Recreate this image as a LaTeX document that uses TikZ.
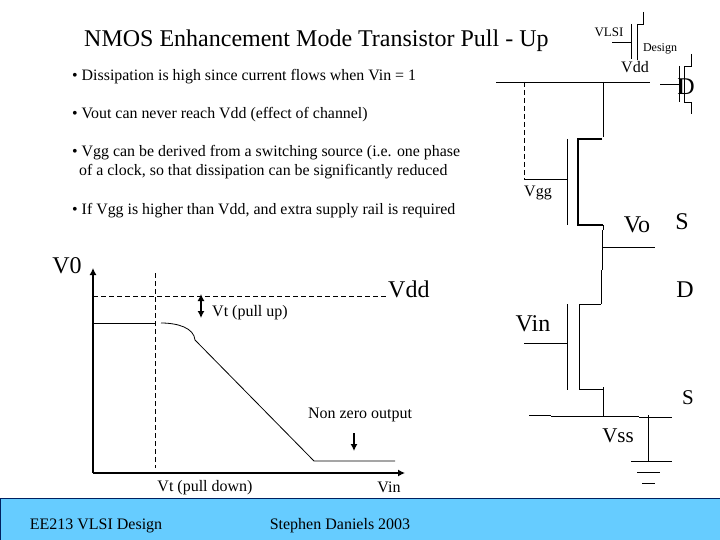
\documentclass[tikz,border=0pt]{standalone}
\usepackage{fontspec}
\usetikzlibrary{arrows.meta}
\setmainfont{Liberation Serif}
\definecolor{footerblue}{HTML}{66CCFF}
\definecolor{footerline}{HTML}{002060}
\tikzset{
  wire/.style={line width=0.8pt},
  dashwire/.style={line width=0.8pt, dash pattern=on 5pt off 3pt},
  titletext/.style={font=\fontsize{24}{28}\selectfont, inner sep=0pt, yshift=-1.5pt},
  bullettext/.style={font=\fontsize{15.9}{19}\selectfont, inner sep=0pt, anchor=west, align=left, yshift=-1.5pt},
  smalltext/.style={font=\fontsize{16}{19}\selectfont, inner sep=0pt, yshift=-1.5pt},
  bigtext/.style={font=\fontsize{24}{28}\selectfont, inner sep=0pt},
}
\begin{document}
\begin{tikzpicture}[x=1pt,y=-1pt,>={Latex[length=7pt,width=7pt]}]
\useasboundingbox (0,0) rectangle (720,540);

% Footer band
  \fill[footerblue] (0,498) rectangle (720,540);
  \draw[footerline, line width=0.9pt] (0,498) -- (720,498);
  \draw[footerline, line width=0.9pt] (0.5,498) -- (0.5,540);
  \node[smalltext] (footerleft) at (96,524) {EE213 VLSI Design};
  \node[smalltext] (footerright) at (340,524) {Stephen Daniels 2003};

% Title and the bullets
  \node[titletext, anchor=west] (title) at (84,39) {NMOS Enhancement Mode Transistor Pull - Up};
  \node[bullettext] (bulletone) at (72,75) {• Dissipation is high since current flows when Vin = 1};
  \node[bullettext] (bullettwo) at (72,113) {• Vout can never reach Vdd (effect of channel)};
  \node[bullettext] (bulletthree) at (72,160.5) {• Vgg can be derived from a switching source (i.e. one phase\\\hspace{7pt}of a clock, so that dissipation can be significantly reduced};
  \node[bullettext] (bulletfour) at (72,209) {• If Vgg is higher than Vdd, and extra supply rail is required};

% Draw the axes of the graph
  \draw[->, line width=1.2pt] (93,473) -- (93,268);
  \draw[->, line width=1.2pt] (93,473) -- (405,473);
  \node[bigtext] (vzero) at (67,266) {V0};
  \node[smalltext] (vinaxis) at (389,486) {Vin};

  % Dashed levels
  \draw[dashwire] (93,296) -- (388,296);
  \draw[dashwire] (155,273) -- (155,468);
  \node[bigtext, anchor=west] (vddlevel) at (388,289) {Vdd};
  \node[smalltext] (vtdown) at (205,486) {Vt (pull down)};

  % The transfer curve
  \draw[wire] (93,323) -- (155,323);
  \draw[wire] (161,323) .. controls (178,323) and (194,328) .. (195,340) -- (314,461) -- (395,461);

  % Small arrows
  \draw[<->, line width=1.2pt] (201,294) -- (201,318);
  \node[smalltext, anchor=west] (vtup) at (212,311) {Vt (pull up)};
  \draw[->, line width=1.2pt] (354,433) -- (354,451);
  \node[smalltext] (nonzero) at (360,413) {Non zero output};

% Small logo transistors
  \draw[wire] (612,42) -- (631,42);
  \draw[wire] (631,24) -- (631,59);
  \draw[wire] (643,12) -- (643,24) -- (637,24) -- (637,60);
  \node[smalltext, font=\fontsize{13}{15}\selectfont] (vlsi) at (609,31) {VLSI};
  \node[smalltext, font=\fontsize{12}{14}\selectfont] (design) at (660,47) {Design};
  \draw[wire] (660,84) -- (679,84);
  \draw[wire] (679,66) -- (679,102);
  \draw[wire] (691,54) -- (691,66) -- (684,66) -- (684,102) -- (691,102) -- (691,114);
  \node[bigtext] (drainlogo) at (686,87) {D};

% Draw the supply rail and the pull up transistor
  \draw[wire] (496,82) -- (650,82);
  \node[smalltext] (vdd) at (635,66) {Vdd};
  \draw[dashwire] (524,82) -- (524,179);
  \draw[wire] (524,179) -- (567,179);
  \node[smalltext] (vgg) at (538,191) {Vgg};
  \draw[wire] (567,139) -- (567,225);
  \draw[line width=1.6pt] (602,139) -- (578,139) -- (578,225) -- (603,225);
  \draw[wire] (603,82) -- (603,137);
  \draw[wire] (603,225) -- (603,230);
  \draw[wire] (602,230) -- (602,270);
  \draw[wire] (601,270) -- (601,304);
  \draw[wire] (602,247) -- (655,247);
  \node[bigtext] (vo) at (637,225) {Vo};
  \node[bigtext] (sourceup) at (682,222) {S};
  \node[bigtext] (drainlow) at (685,290) {D};

% Draw the pull down transistor
  \draw[wire] (524,343) -- (567,343);
  \node[bigtext] (vin) at (533,324) {Vin};
  \draw[wire] (567,304) -- (567,390);
  \draw[wire] (601,304) -- (579,304) -- (579,389) -- (603,389);
  \draw[wire] (603,387) -- (603,416);
  \node[bigtext, font=\fontsize{21}{25}\selectfont] (sourcelow) at (688,398) {S};

% Draw the Vss rail and the ground
  \draw[wire] (529,415) -- (551,415);
  \draw[wire] (551,416) -- (639,416);
  \draw[wire] (639,417) -- (672,417);
  \node[bigtext, font=\fontsize{21}{25}\selectfont] (vss) at (618,436) {Vss};
  \draw[wire] (648,415) -- (648,461);
  \draw[wire] (631,461) -- (672,461);
  \draw[wire] (637,472) -- (660,472);
  \draw[wire] (642,483) -- (655,483);
\end{tikzpicture}
\end{document}
